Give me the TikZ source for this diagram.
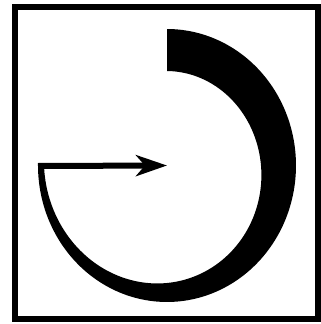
\documentclass[tikz,border=0pt]{standalone}
\usetikzlibrary{arrows.meta}
\tikzset{
  frame/.style = {line width=6pt},
  band/.style  = {fill=black},
  ptr/.style   = {line width=6pt, -{Stealth[length=31pt,width=21pt,inset=9pt]}},
}

\begin{document}
\begin{tikzpicture}[x=1pt,y=-1pt,
    declare function={thk(\a)=42+4.5*((90-\a)/270)-94.5*((90-\a)/270)^2+54*((90-\a)/270)^3;}]
  \useasboundingbox (0,0) rectangle (321,324);
  \draw[frame] (15,6.5) rectangle (318,319);
  \coordinate (c) at (167,165.5);
  % outer edge, then the inner spiral back (thickness shrinks clockwise)
  \fill[band] plot[domain=90:-180,samples=80,smooth]
      ({167+129*cos(\x)},{165.5-136.5*sin(\x)})
    -- plot[domain=-180:90,samples=80,smooth]
      ({167+(129-thk(\x))*cos(\x)},{165.5-(136.5-thk(\x))*sin(\x)}) -- cycle;
  \coordinate (s) at (38,166);
  \draw[ptr] (s) -- (c);
\end{tikzpicture}
\end{document}
